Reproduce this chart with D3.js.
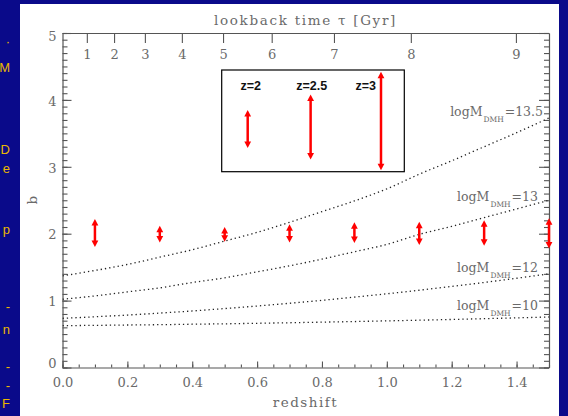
<!DOCTYPE html>
<html><head><meta charset="utf-8">
<script src="https://cdn.jsdelivr.net/npm/d3@7"></script>
<style>
html,body{margin:0;padding:0;background:#0a0a8a;}
svg{display:block;}
</style></head>
<body>
<script>
// ---------- data ----------
const curveZ = [0,0.1,0.2,0.3,0.4,0.5,0.6,0.7,0.8,0.9,1.0,1.1,1.2,1.3,1.4,1.5];
const curveNames = ["13.5","13","12","10"];
const b135 = [1.37,1.45,1.54,1.65,1.76,1.89,2.02,2.17,2.33,2.49,2.67,2.89,3.09,3.30,3.51,3.73];
const b13  = [1.02,1.07,1.13,1.19,1.27,1.34,1.43,1.52,1.62,1.73,1.84,1.99,2.11,2.24,2.37,2.50];
const b12  = [0.735,0.758,0.784,0.813,0.845,0.881,0.919,0.960,1.004,1.052,1.102,1.155,1.212,1.271,1.334,1.40];
const b10  = [0.625,0.630,0.635,0.640,0.647,0.653,0.661,0.669,0.678,0.687,0.697,0.707,0.718,0.730,0.742,0.755];

const errZ  = [0.1,0.3,0.5,0.7,0.9,1.1,1.3,1.5];
const errLo = [1.80,1.87,1.88,1.87,1.86,1.83,1.82,1.78];
const errHi = [2.22,2.12,2.10,2.14,2.17,2.18,2.20,2.23];

const insetLabels = ["z=2","z=2.5","z=3"];
const insetZ  = [0.571,0.765,0.982];
const insetLo = [3.28,3.11,2.95];
const insetHi = [3.85,4.08,4.42];

const xTicks = [0,0.2,0.4,0.6,0.8,1.0,1.2,1.4];
const yTicks = [0,1,2,3,4,5];
const lookbackLabels = [1,2,3,4,5,6,7,8,9];
const lookbackZ = [0.075,0.159,0.254,0.368,0.495,0.645,0.837,1.074,1.398];

// ---------- drawing ----------
const W = 568, H = 416;
const svg = d3.select("body").append("svg").attr("width", W).attr("height", H);
svg.append("rect").attr("width", W).attr("height", H).attr("fill", "#0a0a8a");
svg.append("rect").attr("x", 20).attr("y", 4).attr("width", 539).attr("height", 412).attr("fill", "#ffffff");

// slide text fragments on the left edge (ends of cut-off lines)
const frags = [["·",46],["M",72],["D",154],["e",173],["p",234],["-",311],["n",334],["-",371],["-",390],["F",408]];
svg.append("g").selectAll("text").data(frags).join("text")
  .attr("x", 10).attr("y", d => d[1]).attr("text-anchor", "end")
  .attr("font-family", "Liberation Sans, Arial, sans-serif").attr("font-size", 13)
  .attr("fill", "#eab800").text(d => d[0]);

const x = d3.scaleLinear().domain([0, 1.5]).range([62.5, 549]);
const y = d3.scaleLinear().domain([0, 5]).range([367.5, 33]);

const axisColor = "#555";
const textColor = "#6a6a6a";
const serif = "DejaVu Serif, serif";

function styleAxis(g) {
  g.selectAll("path.domain").attr("stroke", axisColor).attr("stroke-width", 1.2);
  g.selectAll(".tick line").attr("stroke", axisColor).attr("stroke-width", 1.1);
  g.selectAll("text").attr("fill", textColor).attr("font-family", serif).attr("font-size", 13);
}

// bottom axis
const gb = svg.append("g").attr("transform", `translate(0,${y(0)})`)
  .call(d3.axisBottom(x).tickValues(d3.range(0, 1.5001, 0.05)).tickSizeInner(-3).tickSizeOuter(0).tickFormat(""));
styleAxis(gb);
const gb2 = svg.append("g").attr("transform", `translate(0,${y(0)})`)
  .call(d3.axisBottom(x).tickValues(xTicks).tickSizeInner(-6).tickSizeOuter(0).tickPadding(10).tickFormat(d3.format(".1f")));
styleAxis(gb2);
gb2.select("path.domain").remove();

// top axis (lookback time)
const gt = svg.append("g").attr("transform", `translate(0,${y(5)})`)
  .call(d3.axisBottom(x).tickValues(lookbackZ).tickSizeInner(10).tickSizeOuter(0).tickPadding(7)
    .tickFormat((d, i) => lookbackLabels[i]));
styleAxis(gt);

// left axis
const gl = svg.append("g").attr("transform", `translate(${x(0)},0)`)
  .call(d3.axisLeft(y).tickValues(d3.range(0, 5.0001, 0.1)).tickSizeInner(-5).tickSizeOuter(0).tickFormat(""));
styleAxis(gl);
const gl2 = svg.append("g").attr("transform", `translate(${x(0)},0)`)
  .call(d3.axisLeft(y).tickValues(yTicks).tickSizeInner(-9).tickSizeOuter(0).tickPadding(6).tickFormat(d3.format("d")));
styleAxis(gl2);
gl2.select("path.domain").remove();
gl2.selectAll(".tick text").attr("dy", d => d === 0 ? "0.0em" : (d === 5 ? "0.55em" : "0.4em"));

// right axis
const gr = svg.append("g").attr("transform", `translate(${x(1.5)},0)`)
  .call(d3.axisRight(y).tickValues(d3.range(0, 5.0001, 0.1)).tickSizeInner(-5).tickSizeOuter(0).tickFormat(""));
styleAxis(gr);
const gr2 = svg.append("g").attr("transform", `translate(${x(1.5)},0)`)
  .call(d3.axisRight(y).tickValues(yTicks).tickSizeInner(-10).tickSizeOuter(0).tickFormat(""));
styleAxis(gr2);
gr2.select("path.domain").remove();

// axis titles
svg.append("text").attr("x", 305.5).attr("y", 25).attr("text-anchor", "middle")
  .attr("font-family", serif).attr("font-size", 13.5).attr("letter-spacing", 1.7).attr("fill", textColor)
  .text("lookback time τ [Gyr]");
svg.append("text").attr("x", 305.5).attr("y", 407).attr("text-anchor", "middle")
  .attr("font-family", serif).attr("font-size", 13.5).attr("letter-spacing", 1.5).attr("fill", textColor)
  .text("redshift");
svg.append("text").attr("transform", `translate(37,${(y(0) + y(5)) / 2}) rotate(-90)`).attr("text-anchor", "middle")
  .attr("font-family", serif).attr("font-size", 13.5).attr("fill", textColor).text("b");

// clip for curves
svg.append("clipPath").attr("id", "plotclip").append("rect")
  .attr("x", x(0)).attr("y", y(5)).attr("width", x(1.5) - x(0)).attr("height", y(0) - y(5));

const curves = [b135, b13, b12, b10];
const line = d3.line().x((d, i) => x(curveZ[i])).y(d => y(d)).curve(d3.curveMonotoneX);
svg.append("g").attr("clip-path", "url(#plotclip)").selectAll("path").data(curves).join("path")
  .attr("d", line).attr("fill", "none").attr("stroke", "#222")
  .attr("stroke-width", 1.3).attr("stroke-dasharray", "1.3,3");

// curve labels
const labelDx = [543, 538, 538, 538];
const labelDy = [-2, 1, -2, -7];
const lab = svg.append("g").selectAll("text").data(curveNames).join("text")
  .attr("x", (d, i) => labelDx[i]).attr("y", (d, i) => y(curves[i][curves[i].length - 1]) + labelDy[i])
  .attr("text-anchor", "end").attr("font-family", serif).attr("font-size", 12.5).attr("fill", textColor);
lab.append("tspan").text("logM");
lab.append("tspan").attr("dy", 6).attr("font-size", 7.5).attr("dx", 1).text("DMH");
lab.append("tspan").attr("dy", -6).attr("dx", 1).text(d => "=" + d);

// red double arrows
function drawArrow(g, cx, y1, y2, sw, hw, hl) {
  const top = Math.min(y1, y2), bot = Math.max(y1, y2);
  g.append("line").attr("x1", cx).attr("x2", cx).attr("y1", top + hl - 1).attr("y2", bot - hl + 1)
    .attr("stroke", "#ff0000").attr("stroke-width", sw);
  g.append("path").attr("d", `M${cx},${top} L${cx - hw},${top + hl} L${cx + hw},${top + hl} Z`).attr("fill", "#ff0000");
  g.append("path").attr("d", `M${cx},${bot} L${cx - hw},${bot - hl} L${cx + hw},${bot - hl} Z`).attr("fill", "#ff0000");
}
const ga = svg.append("g");
errZ.forEach((z, i) => drawArrow(ga, x(z), y(errLo[i]), y(errHi[i]), 2.5, 3.4, 6.5));

// inset box
const boxX0 = 221.7, boxY0 = 70, boxX1 = 404.3, boxY1 = 171.7;
svg.append("rect").attr("x", boxX0).attr("y", boxY0).attr("width", boxX1 - boxX0).attr("height", boxY1 - boxY0)
  .attr("fill", "#fff").attr("stroke", "#000").attr("stroke-width", 1.2);
const labX = [250.7, 311.7, 365.7];
svg.append("g").selectAll("text").data(insetLabels).join("text")
  .attr("x", (d, i) => labX[i]).attr("y", 90).attr("text-anchor", "middle")
  .attr("font-family", "Liberation Sans, Arial, sans-serif").attr("font-size", 12.5)
  .attr("font-weight", "bold").attr("fill", "#111").text(d => d);
const gi = svg.append("g");
insetZ.forEach((z, i) => drawArrow(gi, x(z), y(insetLo[i]), y(insetHi[i]), 2.5, 3.4, 6.5));
</script>
</body></html>
